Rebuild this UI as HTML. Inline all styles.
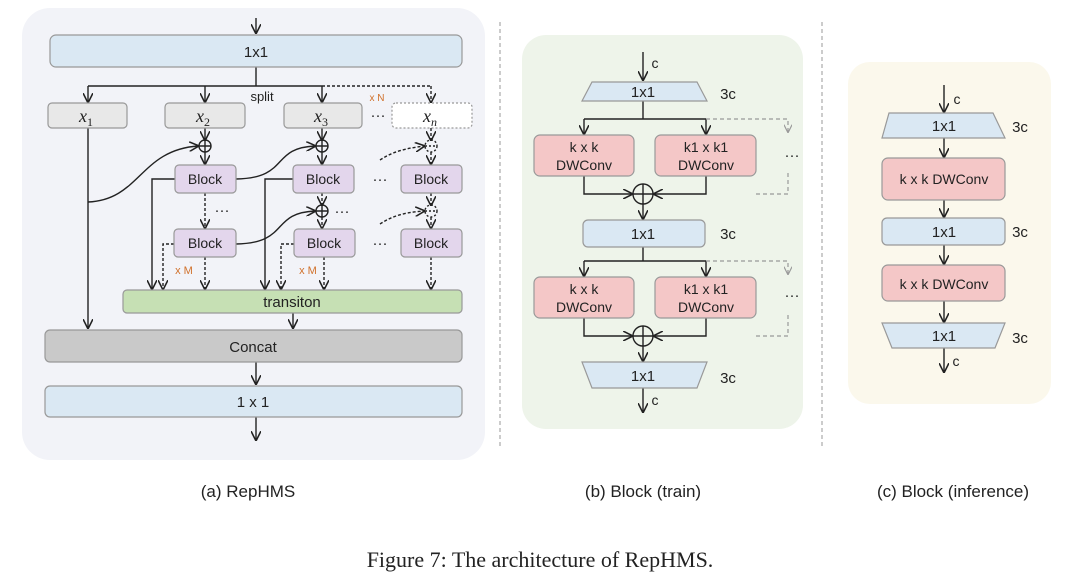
<!DOCTYPE html><html><head><meta charset="utf-8"><style>body{margin:0;background:#fff}svg{display:block}text{font-family:"Liberation Sans",sans-serif}</style></head><body>
<svg width="1080" height="583" viewBox="0 0 1080 583" xmlns="http://www.w3.org/2000/svg">
<defs>
<marker id="a" viewBox="0 0 10 10" refX="9" refY="5" markerWidth="7" markerHeight="7" orient="auto"><path d="M0,0 L10,5 L0,10" fill="none" stroke="#222" stroke-width="1.6"/></marker>
<marker id="ag" viewBox="0 0 10 10" refX="9" refY="5" markerWidth="7" markerHeight="7" orient="auto"><path d="M0,0 L10,5 L0,10" fill="none" stroke="#999" stroke-width="1.4"/></marker>
</defs>
<rect x="22" y="8" width="463" height="452" rx="28" fill="#f2f3f8"/>
<rect x="522" y="35" width="281" height="394" rx="24" fill="#eef4ea"/>
<rect x="848" y="62" width="203" height="342" rx="22" fill="#fbf8ec"/>
<line x1="500" y1="22" x2="500" y2="448" stroke="#999" stroke-dasharray="4,3"/>
<line x1="822" y1="22" x2="822" y2="448" stroke="#999" stroke-dasharray="4,3"/>

<g stroke="#222" stroke-width="1.4" fill="none">
<line x1="256" y1="18" x2="256" y2="33" marker-end="url(#a)"/>
<line x1="256" y1="67" x2="256" y2="86"/>
<line x1="88" y1="86" x2="322" y2="86"/>
<line x1="322" y1="86" x2="431" y2="86" stroke-dasharray="3,2"/>
<line x1="88" y1="86" x2="88" y2="102" marker-end="url(#a)"/>
<line x1="205" y1="86" x2="205" y2="102" marker-end="url(#a)"/>
<line x1="322" y1="86" x2="322" y2="102" marker-end="url(#a)"/>
<line x1="431" y1="86" x2="431" y2="102" marker-end="url(#a)" stroke-dasharray="3,2"/>
<line x1="88" y1="128" x2="88" y2="328" marker-end="url(#a)"/>
<path d="M88,202 C140,200 140,150 198,146" marker-end="url(#a)"/>
<path d="M236,179 C290,178 270,148 315,146" marker-end="url(#a)"/>
<path d="M236,244 C290,243 270,213 315,211" marker-end="url(#a)"/>
<path d="M380,160 C395,150 410,148 424,146" stroke-dasharray="3,2" marker-end="url(#a)"/>
<path d="M380,224 C395,214 410,212 424,211" stroke-dasharray="3,2" marker-end="url(#a)"/>
<line x1="205" y1="128" x2="205" y2="140" marker-end="url(#a)"/>
<line x1="322" y1="128" x2="322" y2="140" marker-end="url(#a)"/>
<line x1="431" y1="128" x2="431" y2="140" stroke-dasharray="3,2" marker-end="url(#a)"/>
<line x1="205" y1="152" x2="205" y2="164" marker-end="url(#a)"/>
<line x1="322" y1="152" x2="322" y2="164" marker-end="url(#a)"/>
<line x1="431" y1="152" x2="431" y2="164" stroke-dasharray="3,2" marker-end="url(#a)"/>
<line x1="205" y1="193" x2="205" y2="228" stroke-dasharray="3,2" marker-end="url(#a)"/>
<line x1="322" y1="193" x2="322" y2="205" stroke-dasharray="3,2" marker-end="url(#a)"/>
<line x1="322" y1="217" x2="322" y2="228" stroke-dasharray="3,2" marker-end="url(#a)"/>
<line x1="431" y1="193" x2="431" y2="205" stroke-dasharray="3,2" marker-end="url(#a)"/>
<line x1="431" y1="217" x2="431" y2="228" stroke-dasharray="3,2" marker-end="url(#a)"/>
<circle cx="205" cy="146" r="6"/><path d="M199,146h12M205,140v12"/>
<circle cx="322" cy="146" r="6"/><path d="M316,146h12M322,140v12"/>
<circle cx="322" cy="211" r="6"/><path d="M316,211h12M322,205v12"/>
<circle cx="431" cy="146" r="6" stroke-dasharray="2,2"/><path d="M425,146h12" stroke-dasharray="2,2"/>
<circle cx="431" cy="211" r="6" stroke-dasharray="2,2"/><path d="M425,211h12" stroke-dasharray="2,2"/>
<polyline points="175,179 152,179 152,289" marker-end="url(#a)"/>
<polyline points="293,179 265,179 265,289" marker-end="url(#a)"/>
<polyline points="174,244 163,244 163,289" stroke-dasharray="3,2" marker-end="url(#a)"/>
<polyline points="294,244 281,244 281,289" stroke-dasharray="3,2" marker-end="url(#a)"/>
<line x1="205" y1="257" x2="205" y2="289" stroke-dasharray="3,2" marker-end="url(#a)"/>
<line x1="324" y1="257" x2="324" y2="289" stroke-dasharray="3,2" marker-end="url(#a)"/>
<line x1="431" y1="257" x2="431" y2="289" stroke-dasharray="3,2" marker-end="url(#a)"/>
<line x1="293" y1="313" x2="293" y2="328" marker-end="url(#a)"/>
<line x1="256" y1="362" x2="256" y2="384" marker-end="url(#a)"/>
<line x1="256" y1="417" x2="256" y2="440" marker-end="url(#a)"/>
<!-- panel b -->
<line x1="643" y1="52" x2="643" y2="80" marker-end="url(#a)"/>
<line x1="643" y1="101" x2="643" y2="119"/>
<line x1="584" y1="119" x2="706" y2="119"/>
<line x1="584" y1="119" x2="584" y2="134" marker-end="url(#a)"/>
<line x1="706" y1="119" x2="706" y2="134" marker-end="url(#a)"/>
<polyline points="584,176 584,194 632,194" marker-end="url(#a)"/>
<polyline points="706,176 706,194 654,194" marker-end="url(#a)"/>
<circle cx="643" cy="194" r="10"/><path d="M633,194h20M643,184v20"/>
<line x1="643" y1="204" x2="643" y2="219" marker-end="url(#a)"/>
<line x1="643" y1="247" x2="643" y2="261"/>
<line x1="584" y1="261" x2="706" y2="261"/>
<line x1="584" y1="261" x2="584" y2="276" marker-end="url(#a)"/>
<line x1="706" y1="261" x2="706" y2="276" marker-end="url(#a)"/>
<polyline points="584,318 584,336 632,336" marker-end="url(#a)"/>
<polyline points="706,318 706,336 654,336" marker-end="url(#a)"/>
<circle cx="643" cy="336" r="10"/><path d="M633,336h20M643,326v20"/>
<line x1="643" y1="346" x2="643" y2="361" marker-end="url(#a)"/>
<line x1="643" y1="388" x2="643" y2="412" marker-end="url(#a)"/>
<!-- panel c -->
<line x1="944" y1="85" x2="944" y2="112" marker-end="url(#a)"/>
<line x1="944" y1="138" x2="944" y2="157" marker-end="url(#a)"/>
<line x1="944" y1="200" x2="944" y2="217" marker-end="url(#a)"/>
<line x1="944" y1="245" x2="944" y2="264" marker-end="url(#a)"/>
<line x1="944" y1="300" x2="944" y2="322" marker-end="url(#a)"/>
<line x1="944" y1="348" x2="944" y2="372" marker-end="url(#a)"/>
</g>
<g stroke="#999" stroke-width="1.2" fill="none" stroke-dasharray="4,3">
<polyline points="706,119 788,119 788,132" marker-end="url(#ag)"/>
<polyline points="756,194 788,194 788,170"/>
<polyline points="706,261 788,261 788,274" marker-end="url(#ag)"/>
<polyline points="756,336 788,336 788,312"/>
</g>
<g stroke="#999" stroke-width="1.2">
<rect x="50" y="35" width="412" height="32" rx="6" fill="#dae8f3"/>
<rect x="48" y="103" width="79" height="25" rx="4" fill="#e8e8e8"/>
<rect x="165" y="103" width="80" height="25" rx="4" fill="#e8e8e8"/>
<rect x="284" y="103" width="78" height="25" rx="4" fill="#e8e8e8"/>
<rect x="392" y="103" width="80" height="25" rx="4" fill="#fff" stroke-dasharray="2,2"/>
<rect x="175" y="165" width="61" height="28" rx="4" fill="#e3d6ec"/>
<rect x="293" y="165" width="61" height="28" rx="4" fill="#e3d6ec"/>
<rect x="401" y="165" width="61" height="28" rx="4" fill="#e3d6ec"/>
<rect x="174" y="229" width="62" height="28" rx="4" fill="#e3d6ec"/>
<rect x="294" y="229" width="61" height="28" rx="4" fill="#e3d6ec"/>
<rect x="401" y="229" width="61" height="28" rx="4" fill="#e3d6ec"/>
<rect x="123" y="290" width="339" height="23" rx="4" fill="#c6e0b4"/>
<rect x="45" y="330" width="417" height="32" rx="5" fill="#c9c9c9"/>
<rect x="45" y="386" width="417" height="31" rx="5" fill="#dae8f3"/>
<polygon points="592,82 697,82 707,101 582,101" fill="#dae8f3"/>
<rect x="534" y="135" width="100" height="41" rx="6" fill="#f4c7c7"/>
<rect x="655" y="135" width="101" height="41" rx="6" fill="#f4c7c7"/>
<rect x="583" y="220" width="122" height="27" rx="5" fill="#dae8f3"/>
<rect x="534" y="277" width="100" height="41" rx="6" fill="#f4c7c7"/>
<rect x="655" y="277" width="101" height="41" rx="6" fill="#f4c7c7"/>
<polygon points="582,362 707,362 697,388 592,388" fill="#dae8f3"/>
<polygon points="889,113 993,113 1005,138 882,138" fill="#dae8f3"/>
<rect x="882" y="158" width="123" height="42" rx="6" fill="#f4c7c7"/>
<rect x="882" y="218" width="123" height="27" rx="5" fill="#dae8f3"/>
<rect x="882" y="265" width="123" height="36" rx="6" fill="#f4c7c7"/>
<polygon points="882,323 1005,323 995,348 892,348" fill="#dae8f3"/>
</g>
<g fill="#222" font-size="15" text-anchor="middle">
<text x="256" y="57">1x1</text>
<text x="262" y="101" font-size="13">split</text>
<text x="377" y="101" font-size="10" fill="#d0702a">x N</text>
<text x="378" y="120">···</text>
<text x="86" y="122" font-size="18" font-style="italic" style="font-family:'Liberation Serif',serif">x<tspan font-size="12" dy="4" font-style="normal">1</tspan></text>
<text x="203" y="122" font-size="18" font-style="italic" style="font-family:'Liberation Serif',serif">x<tspan font-size="12" dy="4" font-style="normal">2</tspan></text>
<text x="321" y="122" font-size="18" font-style="italic" style="font-family:'Liberation Serif',serif">x<tspan font-size="12" dy="4" font-style="normal">3</tspan></text>
<text x="430" y="122" font-size="18" font-style="italic" style="font-family:'Liberation Serif',serif">x<tspan font-size="12" dy="4">n</tspan></text>
<text x="205" y="184" font-size="14">Block</text>
<text x="323" y="184" font-size="14">Block</text>
<text x="431" y="184" font-size="14">Block</text>
<text x="205" y="248" font-size="14">Block</text>
<text x="324" y="248" font-size="14">Block</text>
<text x="431" y="248" font-size="14">Block</text>
<text x="380" y="184">···</text><text x="380" y="248">···</text>
<text x="222" y="215">···</text><text x="342" y="216">···</text>
<text x="184" y="274" font-size="11" fill="#d0702a">x M</text>
<text x="308" y="274" font-size="11" fill="#d0702a">x M</text>
<text x="292" y="307">transiton</text>
<text x="253" y="352">Concat</text>
<text x="253" y="407">1 x 1</text>
<text x="655" y="68" font-size="14">c</text>
<text x="643" y="97">1x1</text><text x="728" y="99">3c</text>
<text x="584" y="152" font-size="14">k x k</text><text x="584" y="170" font-size="14">DWConv</text>
<text x="706" y="152" font-size="14">k1 x k1</text><text x="706" y="170" font-size="14">DWConv</text>
<text x="792" y="160">···</text>
<text x="643" y="239">1x1</text><text x="728" y="239">3c</text>
<text x="584" y="294" font-size="14">k x k</text><text x="584" y="312" font-size="14">DWConv</text>
<text x="706" y="294" font-size="14">k1 x k1</text><text x="706" y="312" font-size="14">DWConv</text>
<text x="792" y="300">···</text>
<text x="643" y="381">1x1</text><text x="728" y="383">3c</text>
<text x="655" y="405" font-size="14">c</text>
<text x="957" y="104" font-size="14">c</text>
<text x="944" y="131">1x1</text><text x="1020" y="132">3c</text>
<text x="944" y="184" font-size="14">k x k DWConv</text>
<text x="944" y="237">1x1</text><text x="1020" y="237">3c</text>
<text x="944" y="289" font-size="14">k x k DWConv</text>
<text x="944" y="341">1x1</text><text x="1020" y="343">3c</text>
<text x="956" y="366" font-size="14">c</text>
<text x="248" y="497" font-size="17">(a) RepHMS</text>
<text x="643" y="497" font-size="17">(b) Block (train)</text>
<text x="953" y="497" font-size="17">(c) Block (inference)</text>
<text x="540" y="567" font-size="22" style="font-family:'Liberation Serif',serif">Figure 7: The architecture of RepHMS.</text>
</g>
</svg>
</body></html>
